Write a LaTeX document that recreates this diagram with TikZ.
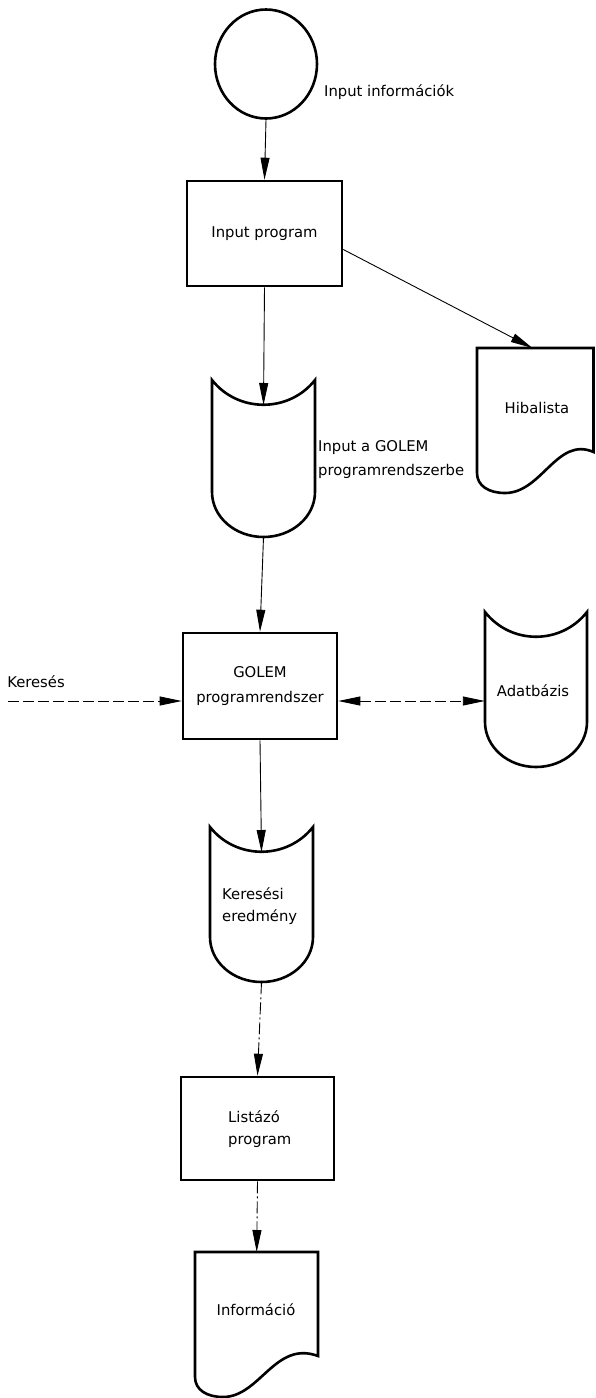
\documentclass[tikz,border=0pt]{standalone}
\usepackage{fontspec}
\setmainfont{DejaVu Sans}
\usetikzlibrary{arrows.meta,shapes.geometric,calc}
\newcommand\tapeshape[5]{%
 \pgfmathsetmacro\tpL{#2-#4}\pgfmathsetmacro\tpR{#2+#4}%
 \pgfmathsetmacro\tpB{#3+#5}\pgfmathsetmacro\tpS{#3+#5-45}%
 \pgfmathsetmacro\tpSc{#3+#5-45+25}%
 \pgfmathsetmacro\tpCl{#2-0.55*#4}\pgfmathsetmacro\tpCr{#2+0.55*#4}%
 \pgfmathsetmacro\tpTl{#2-#4+26}\pgfmathsetmacro\tpTr{#2+#4-26}%
 \pgfmathsetmacro\tpTc{#3+33}\pgfmathsetmacro\tpIn{#3+25}%
 \node[ghost, minimum width={2*#4}, minimum height={#5}, anchor=north] (#1) at (#2,#3) {};
 \coordinate (#1-in) at (#2,\tpIn);
 \draw[shapeline] (\tpL,#3) -- (\tpL,\tpS) .. controls (\tpL,\tpSc) and (\tpCl,\tpB) .. (#2,\tpB)
   .. controls (\tpCr,\tpB) and (\tpR,\tpSc) .. (\tpR,\tpS) -- (\tpR,#3)
   .. controls (\tpTr,\tpTc) and (\tpTl,\tpTc) .. (\tpL,#3) -- cycle;
}
\newcommand\docshape[4]{%
 \pgfmathsetmacro\dpR{#2+#4}%
 \pgfmathsetmacro\dpA{#3+104}\pgfmathsetmacro\dpBx{#2+80}\pgfmathsetmacro\dpBy{#3+88}%
 \pgfmathsetmacro\dpCx{#2+65}\pgfmathsetmacro\dpM{#3+145}\pgfmathsetmacro\dpMx{#2+28}%
 \pgfmathsetmacro\dpDx{#2+12}\pgfmathsetmacro\dpDy{#3+138}\pgfmathsetmacro\dpE{#3+125}%
 \node[ghost, minimum width={#4}, minimum height=145, anchor=north west] (#1) at (#2,#3) {};
 \draw[shapeline] (#2,#3) -- (\dpR,#3) -- (\dpR,\dpA)
   .. controls (\dpBx,\dpBy) and (\dpCx,\dpM) .. (\dpMx,\dpM)
   .. controls (\dpDx,\dpM) and (#2,\dpDy) .. (#2,\dpE) -- cycle;
}
\begin{document}
\begin{tikzpicture}[x=1pt,y=-1pt,
  >={Triangle[length=22pt,width=9pt]},
  shapeline/.style={line width=2.6pt, line join=miter},
  ghost/.style={draw=none, rectangle, inner sep=0pt},
  lbl/.style={font=\fontsize{14.8}{24}\selectfont, inner sep=0pt},
  procbox/.style={draw, line width=2.6pt, rectangle, inner sep=0pt, align=center,
     font=\fontsize{14.8}{25}\selectfont},
  circ/.style={draw, line width=2.6pt, ellipse, inner sep=0pt, minimum width=102pt, minimum height=109pt},
  conn/.style={line width=0.9pt, ->},
  faint/.style={dash pattern=on 11pt off 4pt},
  dashdot/.style={dash pattern=on 12pt off 3pt on 2pt off 3pt}]
\useasboundingbox[fill=white] (0,0) rectangle (595,1398);

% start symbol
\node[circ] (src) at (266,64) {};
\node[lbl, anchor=west] (srclbl) at (324,92) {Input információk};

% input program
\node[procbox, minimum width=155pt, minimum height=105pt] (inprog) at (264.5,233.5) {Input program};

% tape 1
\tapeshape{t1}{263.5}{380}{51.5}{157}
\node[lbl, anchor=west, align=left] (t1lbl) at (318,460) {Input a GOLEM\\programrendszerbe};

% Hibalista document
\docshape{hib}{477}{348}{116.5}
\node[lbl] (hiblbl) at (537,408) {Hibalista};

% GOLEM
\node[procbox, minimum width=154pt, minimum height=106pt] (golem) at (260,686) {GOLEM\\programrendszer};

% Adatbazis
\tapeshape{adat}{536}{612}{51}{155}
\node[lbl] (adatlbl) at (533,691) {Adatbázis};

% Kereses
\coordinate (kstart) at (8,701);
\node[lbl] (kerlbl) at (36,682) {Keresés};

% tape 3
\tapeshape{t3}{261.5}{827}{51.5}{155}
\node[lbl, anchor=west, align=left, font=\fontsize{14.8}{22}\selectfont] (t3lbl) at (222,906) {Keresési\\eredmény};

% Listazo
\node[ghost, draw, line width=2.6pt, minimum width=153pt, minimum height=103pt] (list) at (257.5,1128.5) {};
\node[lbl, anchor=west, align=left, font=\fontsize{14.8}{22}\selectfont] (listlbl) at (228,1129) {Listázó\\program};

% Informacio document
\docshape{info}{195}{1252}{123}
\node[lbl] (infolbl) at (256,1310) {Információ};

% connectors
\draw[conn] (src.south) -- (inprog.north);
\draw[conn] (inprog.south) -- (t1-in);
\draw[conn] ([yshift=-16pt]inprog.east) -- ([xshift=-3pt]hib.north);
\draw[conn] (t1.south) -- (golem.north);
\draw[conn, faint] (kstart) -- (golem.west |- kstart);
\draw[conn, faint, <->] (golem.east |- kstart) -- (adat.west |- kstart);
\draw[conn] (golem.south) -- (t3-in);
\draw[conn, dashdot] (t3.south) -- (list.north);
\draw[conn, dashdot] (list.south) -- (info.north);
\end{tikzpicture}
\end{document}
